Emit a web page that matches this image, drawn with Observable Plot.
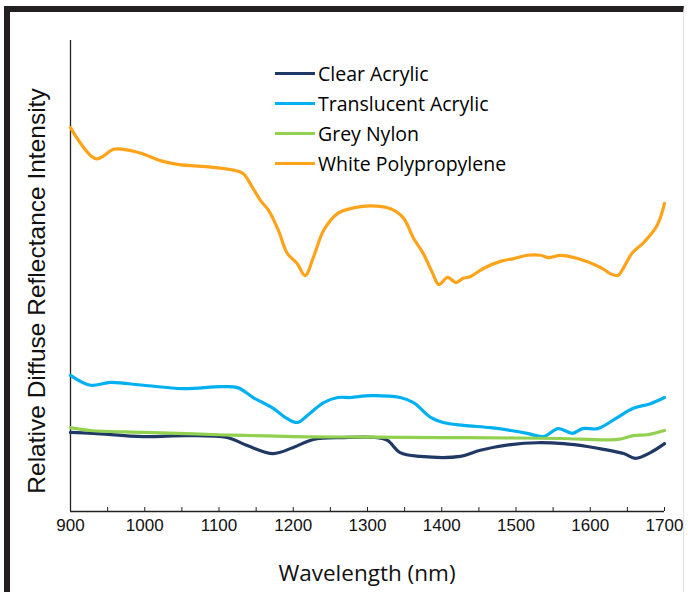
<!DOCTYPE html>
<html><head><meta charset="utf-8">
<script src="https://cdn.jsdelivr.net/npm/d3@7"></script>
<script src="https://cdn.jsdelivr.net/npm/@observablehq/plot@0.6"></script>
<style>
body{margin:0;background:#fff;}
#wrap{position:relative;width:688px;height:592px;overflow:hidden;background:#fff;}
#chart{position:absolute;left:0;top:0;}
#frame{position:absolute;left:4px;top:6px;width:680px;height:620px;border-top:6px solid #231f20;border-left:6px solid #231f20;border-right:1px solid #e2e2e2;box-sizing:border-box;pointer-events:none;}
#legend{position:absolute;left:275px;top:58px;font-family:"Open Sans",Lato,sans-serif;font-size:19.5px;color:#000;}
.row{height:30px;display:flex;align-items:center;white-space:nowrap;}
.sw{width:40px;height:3px;margin-right:3px;}
</style>
</head><body>
<div id="wrap"><div id="chart"></div><div id="frame"></div><div id="legend"></div></div>
<script>
const seriesNames = ["Clear Acrylic","Translucent Acrylic","Grey Nylon","White Polypropylene"];
const seriesColors = ["#1f3864","#00b0f0","#92d050","#ffa31a"];

const clearWl  = [900,931,998,1058,1111,1138,1173,1200,1227,1268,1313,1327,1344,1371,1425,1452,1493,1529,1564,1596,1618,1645,1661,1681,1700];
const clearVal = [16.8,16.6,15.9,16.1,15.7,14.0,12.3,13.6,15.3,15.7,15.7,15.1,12.5,11.7,11.7,13.0,14.2,14.6,14.4,13.8,13.2,12.3,11.3,12.5,14.4];

const transWl  = [900,927,954,998,1052,1102,1125,1146,1173,1192,1206,1219,1241,1260,1277,1304,1344,1362,1385,1402,1429,1466,1493,1515,1537,1557,1576,1590,1610,1637,1658,1681,1700];
const transVal = [28.9,26.8,27.4,26.8,26.1,26.5,26.3,24.2,21.9,19.7,18.9,20.4,23.1,24.2,24.2,24.6,24.2,23.1,20.0,18.9,18.3,17.8,17.2,16.6,15.9,17.6,16.6,17.6,17.6,20.0,21.9,22.9,24.2];

const nylonWl  = [900,927,1000,1100,1200,1300,1400,1500,1560,1637,1658,1677,1700];
const nylonVal = [17.8,17.2,16.8,16.3,15.9,15.8,15.7,15.6,15.5,15.3,16.1,16.3,17.2];

const whiteWl  = [900,934,958,971,994,1021,1044,1089,1115,1132,1145,1156,1167,1180,1192,1205,1216,1227,1241,1260,1277,1304,1331,1348,1362,1375,1388,1396,1408,1419,1429,1439,1456,1479,1497,1515,1533,1544,1560,1583,1614,1627,1637,1645,1657,1672,1690,1700];
const whiteVal = [81.5,74.9,76.9,76.9,76.1,74.5,73.7,73.1,72.6,71.8,68.8,66.0,63.9,59.7,54.8,52.7,50.1,53.9,59.7,63.3,64.3,64.9,64.3,62.4,58.0,54.8,50.5,48.2,49.7,48.6,49.5,49.9,51.6,53.1,53.7,54.4,54.4,53.9,54.4,53.7,51.8,50.5,50.1,51.8,55.0,57.1,60.7,65.4];

const xTicksMinor = [900,950,1000,1050,1100,1150,1200,1250,1300,1350,1400,1450,1500,1550,1600,1650,1700];
const xTickLabels = [900,1000,1100,1200,1300,1400,1500,1600,1700];

const wls = [clearWl, transWl, nylonWl, whiteWl];
const vals = [clearVal, transVal, nylonVal, whiteVal];
const data = [];
seriesNames.forEach((s,i) => wls[i].forEach((w,j) => data.push({series:s, wl:w, v:vals[i][j]})));

const plot = Plot.plot({
  width: 688, height: 592,
  marginLeft: 70, marginRight: 24, marginTop: 40, marginBottom: 81,
  style: {fontFamily: "'Liberation Sans', Arial, sans-serif", background: "transparent"},
  x: {domain: [900, 1700]},
  y: {domain: [0, 100], axis: null},
  color: {domain: seriesNames, range: seriesColors},
  marks: [
    Plot.ruleX([900], {y1: 0, y2: 100, stroke: "#222", strokeWidth: 1.3}),
    Plot.ruleY([0], {stroke: "#222", strokeWidth: 1.3}),
    Plot.axisX({ticks: xTicksMinor, tickSize: 4, tickFormat: () => "", dy: -4, stroke: "#222", label: null}),
    Plot.axisX({ticks: xTickLabels, tickSize: 0, tickPadding: 7, fontSize: 17, fill: "#111", tickFormat: d3.format("d"), label: null}),
    Plot.line(data, {x: "wl", y: "v", z: "series", stroke: "series", strokeWidth: 3.2, curve: "catmull-rom"})
  ]
});
document.getElementById("chart").appendChild(plot);

const svg = d3.select(plot);
svg.append("text")
  .attr("transform", "translate(45,291) rotate(-90)")
  .attr("text-anchor", "middle")
  .attr("font-family", "'Liberation Sans', Arial, sans-serif")
  .attr("font-size", 24.5).attr("fill", "#111")
  .text("Relative Diffuse Reflectance Intensity");
svg.append("text")
  .attr("x", 367).attr("y", 581)
  .attr("text-anchor", "middle")
  .attr("font-family", "'Open Sans', Lato, sans-serif")
  .attr("font-size", 22.5).attr("fill", "#111")
  .text("Wavelength (nm)");

const legend = d3.select("#legend");
seriesNames.forEach((s,i) => {
  const r = legend.append("div").attr("class","row");
  r.append("div").attr("class","sw").style("background", seriesColors[i]);
  r.append("span").text(s);
});
</script>
</body></html>
